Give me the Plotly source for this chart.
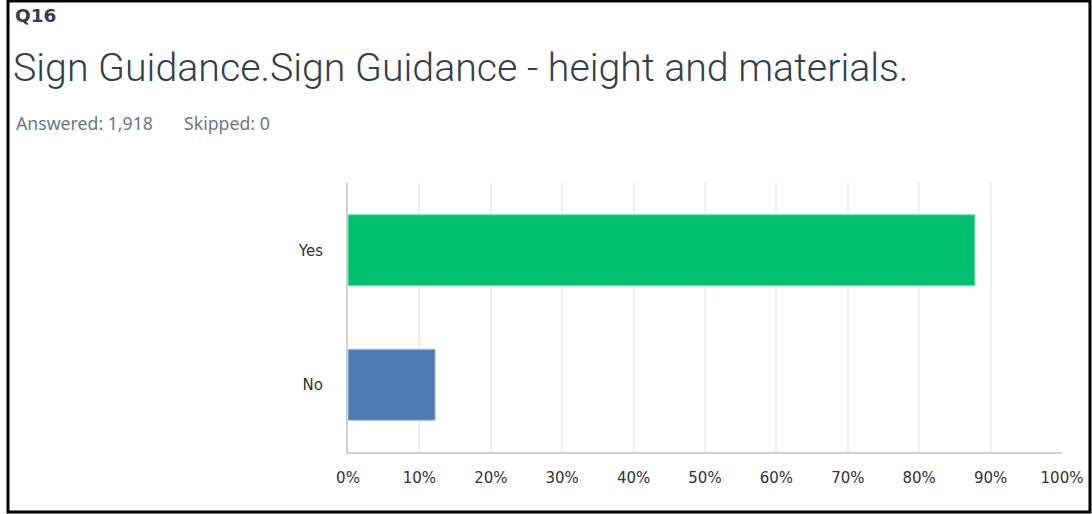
import plotly.graph_objects as go

# Survey responses for Q16
categories = ["Yes", "No"]
percentages = [87.80, 12.20]
bar_colors = ["#00BF6F", "#507CB6"]
bar_edges = ["#7FDFB7", "#A9C0DE"]
tick_values = [0, 10, 20, 30, 40, 50, 60, 70, 80, 90, 100]
tick_labels = [f"{v}%" for v in tick_values]

question_id = "Q16"
question_title = "Sign Guidance.Sign Guidance - height and materials."
answered_text = "Answered: 1,918"
skipped_text = "Skipped: 0"

W, H = 1092, 514
ML, MR, MT, MB = 348, 30, 183, 62
PW, PH = W - ML - MR, H - MT - MB


def px_x(x):
    return (x - ML) / PW


def px_y(y):
    return (H - MB - y) / PH


fig = go.Figure(
    go.Bar(
        x=percentages,
        y=categories,
        orientation="h",
        marker=dict(color=bar_colors, line=dict(color=bar_edges, width=1)),
        hoverinfo="skip",
    )
)

fig.update_layout(
    width=W,
    height=H,
    margin=dict(l=ML, r=MR, t=MT, b=MB, autoexpand=False),
    paper_bgcolor="white",
    plot_bgcolor="white",
    bargap=0.472,
    showlegend=False,
    font=dict(family="DejaVu Sans", color="#333333"),
    xaxis=dict(
        range=[0, 100],
        tickvals=tick_values,
        ticktext=tick_labels,
        showgrid=True,
        gridcolor="#EFEFEF",
        gridwidth=2,
        zeroline=False,
        showline=True,
        linecolor="#D0D0D0",
        linewidth=2,
        ticks="",
        ticklabelstandoff=11,
        automargin=False,
        tickfont=dict(size=15, color="#333333", family="DejaVu Sans"),
        fixedrange=True,
    ),
    yaxis=dict(
        categoryorder="array",
        categoryarray=["No", "Yes"],
        range=[-0.5, 1.5],
        showgrid=False,
        zeroline=False,
        showline=True,
        linecolor="#CFCFCF",
        linewidth=2,
        ticks="",
        ticklabelstandoff=20,
        automargin=False,
        tickfont=dict(size=15, color="#333333", family="DejaVu Sans"),
        fixedrange=True,
    ),
)

# Header texts
fig.add_annotation(
    x=px_x(13), y=px_y(15), xref="paper", yref="paper",
    text=f"<b>{question_id}</b>", showarrow=False, xanchor="left", yanchor="middle",
    font=dict(size=18.5, color="#333e48", family="DejaVu Sans"),
)
fig.add_annotation(
    x=px_x(11), y=px_y(68), xref="paper", yref="paper",
    text=question_title, showarrow=False, xanchor="left", yanchor="middle",
    font=dict(size=39.3, color="#333e48", family="Roboto", weight=300),
)
fig.add_annotation(
    x=px_x(14), y=px_y(123), xref="paper", yref="paper",
    text=answered_text, showarrow=False, xanchor="left", yanchor="middle",
    font=dict(size=17.7, color="#6B787F", family="Noto Sans"),
)
fig.add_annotation(
    x=px_x(182), y=px_y(123), xref="paper", yref="paper",
    text=skipped_text, showarrow=False, xanchor="left", yanchor="middle",
    font=dict(size=17.7, color="#6B787F", family="Noto Sans"),
)

# Outer frame
fig.add_shape(
    type="rect", xref="paper", yref="paper",
    x0=px_x(8), x1=px_x(1090), y0=px_y(512), y1=px_y(1),
    line=dict(color="black", width=3), fillcolor="rgba(0,0,0,0)",
)

fig.write_html("out.html")
